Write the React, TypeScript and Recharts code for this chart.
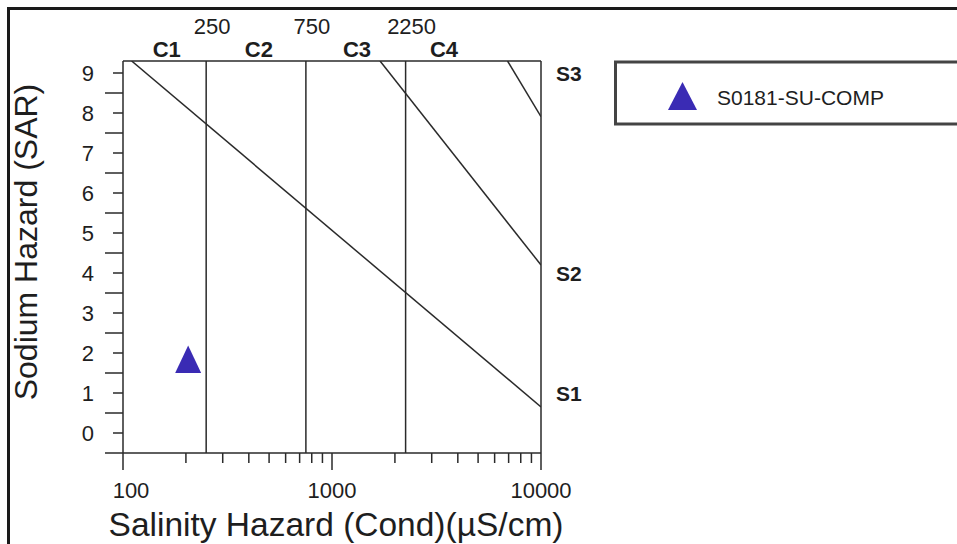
import {
  ScatterChart,
  Scatter,
  XAxis,
  YAxis,
  ReferenceLine,
  Legend,
  Label,
} from "recharts";

const FONT = '"Liberation Sans", Arial, Helvetica, sans-serif';
const INK = "#1e1e1e";
const LINE = "#2a2a2a";
const MARK = "#3A2BB4";

// conductivity axis (log)
const xTicks = [
  100, 200, 300, 400, 500, 600, 700, 800, 900, 1000, 2000, 3000, 4000, 5000,
  6000, 7000, 8000, 9000, 10000,
];
const xMajor = [100, 1000, 10000];

// salinity classes
const cBounds = [250, 750, 2250];
const cZoneAt = [162, 447, 1317, 3434];
const cZones = ["C1", "C2", "C3", "C4"];

// sodium axis: labelled ticks + the long in-between ticks
const sarLabels = [0, 1, 2, 3, 4, 5, 6, 7, 8, 9];
const sarHalf = [-0.5, 0.5, 1.5, 2.5, 3.5, 4.5, 5.5, 6.5, 7.5, 8.5];

// sodium classes on the right
const sZoneAt = [1, 4, 9];
const sZones = ["S1", "S2", "S3"];

// class boundary lines
const s1s2 = [
  { cond: 110, sar: 9.3 },
  { cond: 10000, sar: 0.65 },
];
const s2s3 = [
  { cond: 1698, sar: 9.3 },
  { cond: 10000, sar: 4.2 },
];
const s3s4 = [
  { cond: 6918, sar: 9.3 },
  { cond: 10000, sar: 7.91 },
];

const sampleName = "S0181-SU-COMP";
const sample = [{ cond: 205, sar: 1.73 }];

const xTitle = "Salinity Hazard (Cond)(µS/cm)";
const yTitle = "Sodium Hazard (SAR)";

const topTicks = [...cBounds, ...cZoneAt].sort((a, b) => a - b);
const yTicks = [...sarHalf, ...sarLabels].sort((a, b) => a - b);

function Tri({ cx, cy, w = 26, h = 27.5 }: any) {
  const top = cy - (h * 2) / 3;
  const base = cy + h / 3;
  return (
    <polygon
      points={`${cx},${top} ${cx - w / 2},${base} ${cx + w / 2},${base}`}
      fill={MARK}
    />
  );
}

function NoDot() {
  return <g />;
}

function SarTick({ x, y, payload }: any) {
  const v = payload.value;
  const labelled = Number.isInteger(v);
  return (
    <g>
      <line
        x1={x - (labelled ? 10 : 18)}
        x2={x}
        y1={y}
        y2={y}
        stroke={LINE}
        strokeWidth={1.5}
      />
      {labelled && (
        <text
          x={x - 29}
          y={y + 8}
          textAnchor="end"
          fontSize={22}
          fill={INK}
          fontFamily={FONT}
        >
          {v}
        </text>
      )}
    </g>
  );
}

function CondTick({ x, y, payload }: any) {
  const v = payload.value;
  const major = xMajor.includes(v);
  const shift = v === 100 ? 8 : 0;
  return (
    <g>
      <line
        x1={x}
        x2={x}
        y1={y}
        y2={y + (major ? 17 : 10)}
        stroke={LINE}
        strokeWidth={1.5}
      />
      {major && (
        <text
          x={x + shift}
          y={y + 45}
          textAnchor="middle"
          fontSize={22}
          fill={INK}
          fontFamily={FONT}
        >
          {v}
        </text>
      )}
    </g>
  );
}

function TopTick({ x, y, payload }: any) {
  const v = payload.value;
  if (cBounds.includes(v)) {
    return (
      <text
        x={x + 6}
        y={y - 27}
        textAnchor="middle"
        fontSize={22}
        fill={INK}
        fontFamily={FONT}
      >
        {v}
      </text>
    );
  }
  return (
    <text
      x={x}
      y={y - 4}
      textAnchor="middle"
      fontSize={22}
      fontWeight="bold"
      fill={INK}
      fontFamily={FONT}
    >
      {cZones[cZoneAt.indexOf(v)]}
    </text>
  );
}

function STick({ x, y, payload }: any) {
  return (
    <text
      x={x}
      y={y + 8}
      fontSize={21}
      fontWeight="bold"
      fill={INK}
      fontFamily={FONT}
    >
      {sZones[sZoneAt.indexOf(payload.value)]}
    </text>
  );
}

function YTitle(props: any) {
  const vb = props.viewBox || { x: 0, y: 61, width: 123, height: 392 };
  const cx = vb.x + 37;
  const cy = vb.y + vb.height / 2 - 15;
  return (
    <text
      x={cx}
      y={cy}
      transform={`rotate(-90 ${cx} ${cy})`}
      textAnchor="middle"
      fontSize={32}
      fill={INK}
      fontFamily={FONT}
    >
      {yTitle}
    </text>
  );
}

function XTitle(props: any) {
  const vb = props.viewBox || { x: 123, y: 453, width: 418, height: 91 };
  return (
    <text
      x={vb.x + vb.width / 2 + 4}
      y={vb.y + 83}
      textAnchor="middle"
      fontSize={33.5}
      fill={INK}
      fontFamily={FONT}
    >
      {xTitle}
    </text>
  );
}

function LegendBox({ payload }: any) {
  const item = (payload || []).find((p: any) => p.type !== "none");
  return (
    <svg width={400} height={70} style={{ display: "block" }}>
      <rect
        x={2.5}
        y={2}
        width={390}
        height={62}
        fill="#fff"
        stroke="#444"
        strokeWidth={3}
      />
      <Tri cx={69.5} cy={40.7} w={29} h={28} />
      <text x={104} y={45} fontSize={21} fill={INK} fontFamily={FONT}>
        {item ? item.value : sampleName}
      </text>
    </svg>
  );
}

export default function App() {
  return (
    <div
      style={{
        position: "absolute",
        left: 0,
        top: 0,
        width: 957,
        height: 544,
        overflow: "hidden",
        background: "#fff",
      }}
    >
      <div
        style={{
          position: "absolute",
          left: 7,
          top: 7,
          width: 1200,
          height: 800,
          border: "3px solid #1a1a1a",
        }}
      />
      <div style={{ position: "absolute", left: 0, top: 0 }}>
        <ScatterChart
          width={957}
          height={544}
          margin={{ top: 41, right: 356, bottom: 0, left: 0 }}
        >
          <XAxis
            dataKey="cond"
            type="number"
            scale="log"
            domain={[100, 10000]}
            allowDataOverflow
            ticks={xTicks}
            interval={0}
            height={91}
            tickSize={0}
            tickMargin={0}
            tick={<CondTick />}
            axisLine={{ stroke: LINE, strokeWidth: 1.5 }}
            tickLine={false}
          >
            <Label content={XTitle} />
          </XAxis>
          <XAxis
            xAxisId="top"
            dataKey="cond"
            orientation="top"
            type="number"
            scale="log"
            domain={[100, 10000]}
            allowDataOverflow
            ticks={topTicks}
            interval={0}
            height={20}
            tickSize={0}
            tickMargin={0}
            tick={<TopTick />}
            axisLine={false}
            tickLine={false}
          />
          <YAxis
            dataKey="sar"
            type="number"
            domain={[-0.5, 9.3]}
            allowDataOverflow
            ticks={yTicks}
            interval={0}
            width={123}
            tickSize={0}
            tickMargin={0}
            tick={<SarTick />}
            axisLine={{ stroke: LINE, strokeWidth: 1.5 }}
            tickLine={false}
          >
            <Label content={YTitle} />
          </YAxis>
          <YAxis
            yAxisId="right"
            dataKey="sar"
            orientation="right"
            type="number"
            domain={[-0.5, 9.3]}
            allowDataOverflow
            ticks={sZoneAt}
            interval={0}
            width={60}
            tickSize={0}
            tickMargin={15}
            tick={<STick />}
            axisLine={false}
            tickLine={false}
          />
          <ReferenceLine y={9.3} stroke={LINE} strokeWidth={1.5} />
          <ReferenceLine x={10000} stroke={LINE} strokeWidth={1.5} />
          {cBounds.map((b) => (
            <ReferenceLine key={b} x={b} stroke={LINE} strokeWidth={1.5} />
          ))}
          <Scatter
            data={s1s2}
            line={{ stroke: LINE, strokeWidth: 1.5 }}
            shape={NoDot}
            legendType="none"
            isAnimationActive={false}
          />
          <Scatter
            data={s2s3}
            xAxisId="top"
            yAxisId="right"
            line={{ stroke: LINE, strokeWidth: 1.5 }}
            shape={NoDot}
            legendType="none"
            isAnimationActive={false}
          />
          <Scatter
            data={s3s4}
            line={{ stroke: LINE, strokeWidth: 1.5 }}
            shape={NoDot}
            legendType="none"
            isAnimationActive={false}
          />
          <Scatter
            name={sampleName}
            data={sample}
            fill={MARK}
            shape={(p: any) => <Tri cx={p.cx} cy={p.cy} />}
            isAnimationActive={false}
          />
          <Legend
            layout="horizontal"
            verticalAlign="middle"
            align="center"
            content={LegendBox}
            wrapperStyle={{ left: 613, top: 60, width: 400, height: 70 }}
          />
        </ScatterChart>
      </div>
    </div>
  );
}
